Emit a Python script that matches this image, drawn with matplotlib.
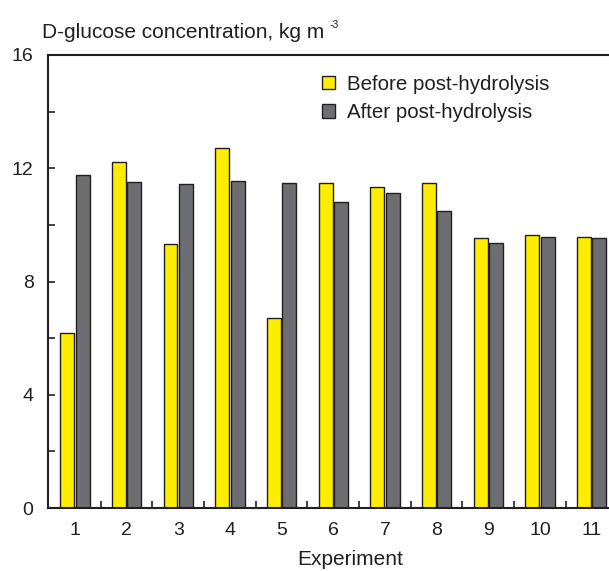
import matplotlib.pyplot as plt
import numpy as np
from matplotlib.ticker import MultipleLocator, FixedLocator

plt.rcParams['font.family'] = ['Liberation Sans', 'DejaVu Sans']

# data
experiments = [1, 2, 3, 4, 5, 6, 7, 8, 9, 10, 11]
before = [6.17, 12.21, 9.33, 12.73, 6.72, 11.47, 11.34, 11.48, 9.55, 9.64, 9.58]
after = [11.75, 11.52, 11.43, 11.56, 11.47, 10.80, 11.12, 10.50, 9.35, 9.58, 9.54]

fig = plt.figure(figsize=(6.09, 5.71), dpi=100)
ax = fig.add_axes([0.078, 0.1103, 0.936, 0.7934])

x = np.array(experiments)
w = 0.27
ax.bar(x - w / 2 - 0.015, before, w, color='#FFED00', edgecolor='#231F20', linewidth=1,
       label='Before post-hydrolysis')
ax.bar(x + w / 2 + 0.015, after, w, color='#6D6E71', edgecolor='#231F20', linewidth=1,
       label='After post-hydrolysis')

ax.set_xlim(0.47, 11.5)
ax.set_ylim(0, 16)

ax.yaxis.set_major_locator(MultipleLocator(4))
ax.yaxis.set_minor_locator(MultipleLocator(2))
ax.set_xticks(experiments)
ax.xaxis.set_minor_locator(FixedLocator([e + 0.5 for e in experiments[:-1]]))
ax.tick_params(axis='x', which='major', length=0, labelsize=14, pad=10, colors='#231F20')
ax.tick_params(axis='x', which='minor', direction='in', length=5, width=1.2, color='#231F20')
ax.tick_params(axis='y', which='both', direction='in', length=5, width=1.2, color='#231F20',
               labelsize=14, pad=10, labelcolor='#231F20')

for s in ['left', 'bottom', 'top']:
    ax.spines[s].set_linewidth(1.5)
    ax.spines[s].set_color('#231F20')
ax.spines['right'].set_visible(False)

fig.text(0.575, 0.011, 'Experiment', fontsize=15, ha='center', va='baseline', color='#231F20')
fig.text(0.069, 0.9335, 'D-glucose concentration, kg m', fontsize=15,
         ha='left', va='baseline', color='#231F20')
fig.text(0.541, 0.951, '-3', fontsize=7.5, ha='left', va='baseline', color='#231F20')

leg = ax.legend(loc='upper left', bbox_to_anchor=(0.5287, 0.869), bbox_transform=fig.transFigure,
                frameon=False, fontsize=14.8, borderpad=0, borderaxespad=0,
                handlelength=0.63, handleheight=0.63, handletextpad=0.58, labelspacing=0.45)
for t in leg.get_texts():
    t.set_color('#231F20')

fig.savefig('out.png', dpi=100)
